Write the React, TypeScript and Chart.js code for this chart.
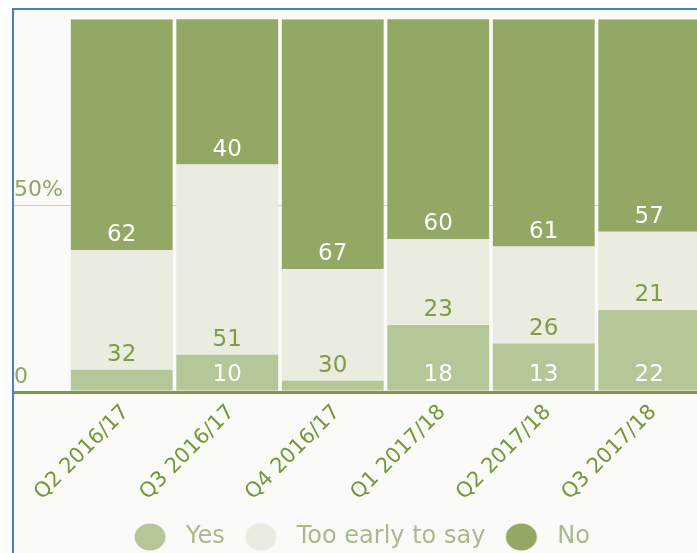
import React, { useEffect, useRef } from 'react';
import { Chart, registerables } from 'chart.js';

Chart.register(...registerables);

const categories = ['Q2 2016/17', 'Q3 2016/17', 'Q4 2016/17', 'Q1 2017/18', 'Q2 2017/18', 'Q3 2017/18'];
const seriesNames = ['Yes', 'Too early to say', 'No'];
const yesValues = [6, 10, 3, 18, 13, 22];
const tooEarlyValues = [32, 51, 30, 23, 26, 21];
const noValues = [62, 40, 67, 60, 61, 57];
const yTickValues = [0, 50];
const yTickLabels = ['0', '50%'];

const FONT = '"DejaVu Sans", sans-serif';
const seriesColors = ['#b5c698', '#e9ecdf', '#93a864'];
const labelColors = ['#ffffff', '#7f9c48', '#ffffff'];
const AXIS_GREEN = '#7d9b45';

function ellipseImage(color: string): HTMLCanvasElement {
  const c = document.createElement('canvas');
  c.width = 48;
  c.height = 28;
  const g = c.getContext('2d')!;
  g.fillStyle = color;
  g.beginPath();
  g.ellipse(24, 14, 15.5, 13.5, 0, 0, Math.PI * 2);
  g.fill();
  return c;
}

const segmentLabels = {
  id: 'segmentLabels',
  afterDatasetsDraw(chart: any) {
    const ctx = chart.ctx;
    ctx.save();
    ctx.font = `23px ${FONT}`;
    ctx.textAlign = 'center';
    ctx.textBaseline = 'middle';
    chart.data.datasets.forEach((ds: any, di: number) => {
      const meta = chart.getDatasetMeta(di);
      meta.data.forEach((el: any, i: number) => {
        const v = ds.data[i];
        if (v < 8) return;
        const { x, base } = el.getProps(['x', 'base'], true);
        ctx.fillStyle = labelColors[di];
        ctx.fillText(String(v), x, base - 15);
      });
    });
    ctx.restore();
  },
};

export default function App() {
  const ref = useRef<HTMLCanvasElement>(null);

  useEffect(() => {
    if (!ref.current) return;
    const images = seriesColors.map((c) => ellipseImage(c));
    const seriesData = [yesValues, tooEarlyValues, noValues];
    const chart = new Chart(ref.current, {
      type: 'bar',
      data: {
        labels: categories,
        datasets: seriesNames.map((name, i) => ({
          label: name,
          data: seriesData[i],
          backgroundColor: seriesColors[i],
          borderWidth: 0,
          barPercentage: 0.965,
          categoryPercentage: 1,
        })),
      },
      options: {
        responsive: false,
        maintainAspectRatio: false,
        animation: false,
        layout: { padding: { top: 0, left: 0, right: 0, bottom: 0 } },
        plugins: {
          tooltip: { enabled: false },
          legend: {
            position: 'bottom',
            labels: {
              usePointStyle: true,
              pointStyleWidth: 48,
              padding: 12,
              color: '#a9ba8e',
              font: { family: FONT, size: 24 },
              generateLabels: (c: any) =>
                (Chart.defaults.plugins.legend.labels.generateLabels as any)(c).map((l: any, i: number) => ({
                  ...l,
                  pointStyle: images[i],
                })),
            },
          },
        },
        scales: {
          x: {
            stacked: true,
            grid: { display: true, color: 'transparent', drawTicks: false },
            border: { display: true, color: AXIS_GREEN, width: 3, z: 1 },
            ticks: {
              color: '#74983a',
              font: { family: FONT, size: 21 },
              maxRotation: 45,
              minRotation: 45,
              padding: 8,
              labelOffset: 4,
              autoSkip: false,
            },
            afterFit: (s: any) => {
              s.height = 121;
            },
          },
          y: {
            stacked: true,
            min: 0,
            max: 100,
            afterBuildTicks: (s: any) => {
              s.ticks = yTickValues.map((v) => ({ value: v }));
            },
            grid: {
              color: (c: any) => (c.tick && c.tick.value === 0 ? AXIS_GREEN : '#c9d4b4'),
              lineWidth: (c: any) => (c.tick && c.tick.value === 0 ? 3 : 1),
              tickLength: 55,
              drawTicks: true,
            },
            border: { display: false },
            ticks: {
              crossAlign: 'far',
              labelOffset: -15,
              color: '#8ea862',
              font: { family: FONT, size: 22 },
              callback: (v: any) => yTickLabels[yTickValues.indexOf(Number(v))],
            },
            afterFit: (s: any) => {
              s.width = 55;
            },
          },
        },
      } as any,
      plugins: [segmentLabels],
    });
    return () => chart.destroy();
  }, []);

  return (
    <div style={{ position: 'fixed', inset: 0, overflow: 'hidden', background: '#ffffff' }}>
      <div
        style={{
          position: 'absolute',
          left: 12,
          top: 8,
          width: 720,
          height: 600,
          borderLeft: '2px solid #4a7ec9',
          borderTop: '2px solid #4a7ec9',
          background: '#fafaf8',
        }}
      >
        <canvas
          ref={ref}
          width={688}
          height={556}
          style={{ position: 'absolute', left: 0, top: -7, width: 688, height: 556 }}
        />
      </div>
    </div>
  );
}
